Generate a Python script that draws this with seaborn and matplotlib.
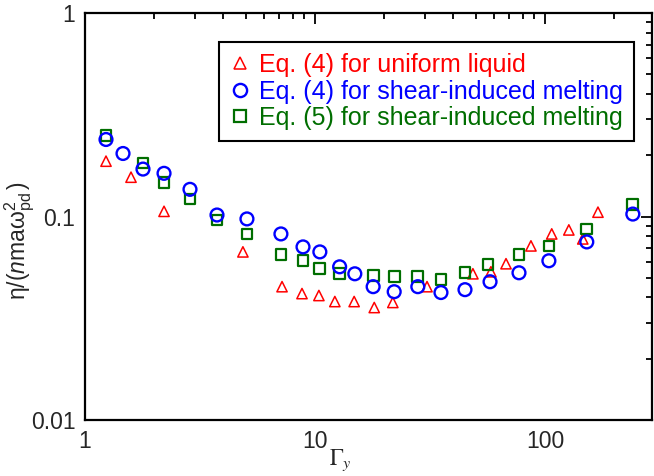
import matplotlib
matplotlib.use("Agg")
import matplotlib.pyplot as plt
import seaborn as sns
import pandas as pd
from matplotlib.lines import Line2D
from matplotlib.ticker import LogLocator, NullFormatter, FixedLocator, FixedFormatter

# ---- data ----
tri_x = [1.234, 1.585, 2.206, 4.86, 7.19, 8.78, 10.4, 12.2, 14.8, 18.1, 21.8,
         30.7, 48.6, 58.2, 67.7, 86.9, 107, 127, 146, 170]
tri_y = [0.187, 0.156, 0.106, 0.067, 0.0452, 0.0418, 0.0409, 0.0382, 0.0382,
         0.0357, 0.0378, 0.0452, 0.0523, 0.0535, 0.0586, 0.0717, 0.0821,
         0.0859, 0.0776, 0.105]

cir_x = [1.234, 1.463, 1.787, 2.206, 2.861, 3.749, 5.06, 7.11, 8.87, 10.5, 12.8,
         14.9, 17.9, 22.1, 28.0, 35.3, 44.9, 57.7, 77.1, 104, 152, 241]
cir_y = [0.239, 0.204, 0.171, 0.163, 0.136, 0.1017, 0.0973, 0.0821, 0.0709,
         0.067, 0.0566, 0.0523, 0.0452, 0.0427, 0.0452, 0.0423, 0.0437,
         0.0478, 0.0529, 0.0606, 0.075, 0.1028]

sq_x = [1.234, 1.787, 2.206, 2.861, 3.749, 5.06, 7.11, 8.87, 10.5, 12.8, 17.9,
        22.1, 28.0, 35.3, 44.9, 56.5, 77.1, 104, 152, 241]
sq_y = [0.250, 0.183, 0.1475, 0.122, 0.0961, 0.0821, 0.0648, 0.0606, 0.0554,
        0.0523, 0.0512, 0.0506, 0.0506, 0.0489, 0.0529, 0.0579, 0.0648,
        0.0717, 0.0869, 0.115]

labels = ["Eq. (4) for uniform liquid",
          "Eq. (4) for shear-induced melting",
          "Eq. (5) for shear-induced melting"]
x_ticks = [1, 10, 100]
x_ticklabels = ["1", "10", "100"]
y_ticks = [0.01, 0.1, 1]
y_ticklabels = ["0.01", "0.1", "1"]

RED = "#ff0000"
BLUE = "#0000ff"
GREEN = "#006e00"

sns.set_style("white")
plt.rcParams["font.family"] = ["Liberation Sans", "DejaVu Sans"]
plt.rcParams["mathtext.fontset"] = "custom"
plt.rcParams["mathtext.rm"] = "Liberation Sans"
plt.rcParams["mathtext.it"] = "Liberation Sans:italic"
plt.rcParams["mathtext.bf"] = "Liberation Sans:bold"

fig = plt.figure(figsize=(6.54, 4.76), dpi=100)
L, R, T, B = 85, 652, 13, 420
ax = fig.add_axes([L / 654, 1 - B / 476, (R - L) / 654, (B - T) / 476])

df_t = pd.DataFrame({"x": tri_x, "y": tri_y})
df_c = pd.DataFrame({"x": cir_x, "y": cir_y})
df_s = pd.DataFrame({"x": sq_x, "y": sq_y})

sns.scatterplot(data=df_t, x="x", y="y", ax=ax, marker="^", s=55,
                facecolor="none", edgecolor=RED, linewidth=1.1, zorder=3)
sns.scatterplot(data=df_s, x="x", y="y", ax=ax, marker="s", s=60,
                facecolor="none", edgecolor=GREEN, linewidth=1.6, zorder=4)
sns.scatterplot(data=df_c, x="x", y="y", ax=ax, marker="o", s=85,
                facecolor="none", edgecolor=BLUE, linewidth=1.7, zorder=5)

ax.set_xscale("log")
ax.set_yscale("log")
ax.set_xlim(1, 292)
ax.set_ylim(0.01, 1)

ax.xaxis.set_major_locator(FixedLocator(x_ticks))
ax.xaxis.set_major_formatter(FixedFormatter(x_ticklabels))
ax.yaxis.set_major_locator(FixedLocator(y_ticks))
ax.yaxis.set_major_formatter(FixedFormatter(y_ticklabels))
ax.xaxis.set_minor_locator(LogLocator(base=10, subs=range(2, 10)))
ax.yaxis.set_minor_locator(LogLocator(base=10, subs=range(2, 10)))
ax.xaxis.set_minor_formatter(NullFormatter())
ax.yaxis.set_minor_formatter(NullFormatter())

ax.tick_params(which="both", direction="in", top=True, right=True,
               color="black", width=1.3)
ax.tick_params(which="major", length=8, labelsize=16.5, pad=7)
ax.tick_params(which="minor", length=4.5)
for sp in ax.spines.values():
    sp.set_visible(True)
    sp.set_color("black")
    sp.set_linewidth(1.6)

ax.set_xlabel(r"$\Gamma_y$", fontsize=16.5, math_fontfamily="stix")
ax.xaxis.set_label_coords(0.45, -0.068)
ax.set_ylabel(r"$\mathrm{\eta}/(n\mathrm{ma}\mathrm{\omega}_{\mathrm{pd}}^{2}\,)$",
              fontsize=16.5)
ax.yaxis.set_label_coords(-0.085, 0.442)

handles = [
    Line2D([], [], marker="^", linestyle="none", markersize=8,
           markerfacecolor="none", markeredgecolor=RED, markeredgewidth=1.1),
    Line2D([], [], marker="o", linestyle="none", markersize=9.5,
           markerfacecolor="none", markeredgecolor=BLUE, markeredgewidth=1.7),
    Line2D([], [], marker="s", linestyle="none", markersize=8,
           markerfacecolor="none", markeredgecolor=GREEN, markeredgewidth=1.6),
]
leg = ax.legend(handles, labels, loc="upper right", bbox_to_anchor=(0.968, 0.929),
                fontsize=18, frameon=True, fancybox=False, edgecolor="black",
                framealpha=1, handlelength=0.8, handletextpad=0.35,
                borderpad=0.45, labelspacing=0.1, borderaxespad=0)
leg.get_frame().set_linewidth(1.5)
for t, c in zip(leg.get_texts(), [RED, BLUE, GREEN]):
    t.set_color(c)

fig.savefig("out.png", dpi=100)
